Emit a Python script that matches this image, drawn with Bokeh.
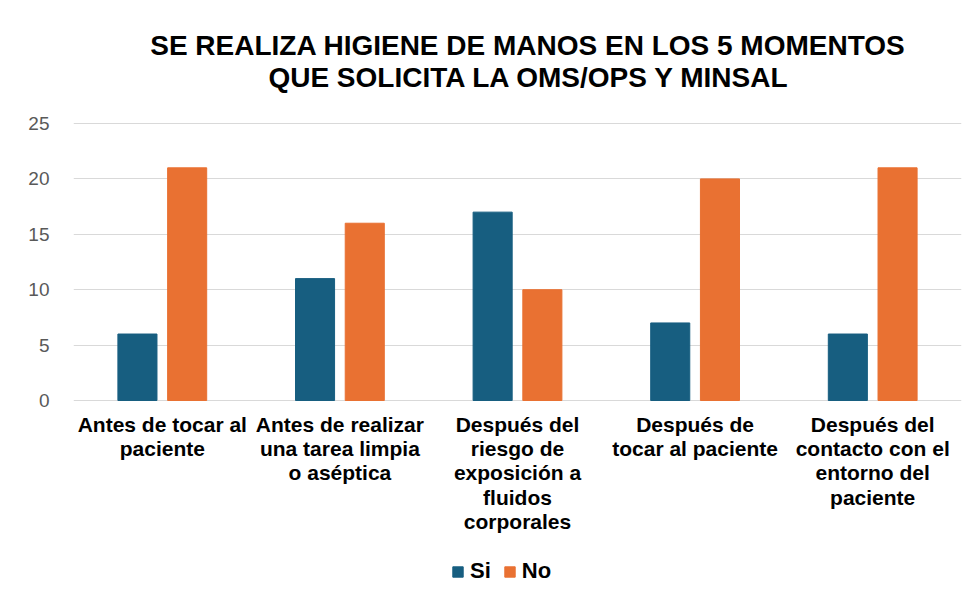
from bokeh.plotting import figure
from bokeh.models import ColumnDataSource, FactorRange, Legend, LegendItem, Range1d, FixedTicker, Label
from bokeh.transform import dodge
from bokeh.core.properties import value
from bokeh.embed import file_html
from bokeh.resources import INLINE

categories = [
    "Antes de tocar al\npaciente",
    "Antes de realizar\nuna tarea limpia\no aséptica",
    "Después del\nriesgo de\nexposición a\nfluidos\ncorporales",
    "Después de\ntocar al paciente",
    "Después del\ncontacto con el\nentorno del\npaciente",
]
si_values = [6, 11, 17, 7, 6]
no_values = [21, 16, 10, 20, 21]
series_names = ["Si", "No"]
y_ticks = [0, 5, 10, 15, 20, 25]
title_line1 = "SE REALIZA HIGIENE DE MANOS EN LOS 5 MOMENTOS"
title_line2 = "QUE SOLICITA LA OMS/OPS Y MINSAL"

FONT = "Liberation Sans"
BLUE = "#175E80"
ORANGE = "#E97132"

W, H = 969, 596
LEFT, RIGHT = 73, 8
PLOT_TOP, PLOT_BOTTOM = 123, 400          # pixel rows of value 25 and value 0
ppu = (PLOT_BOTTOM - PLOT_TOP) / y_ticks[-1]
y_start = -(H - PLOT_BOTTOM) / ppu
y_end = y_ticks[-1] + PLOT_TOP / ppu

src = ColumnDataSource(dict(cat=categories, si=si_values, no=no_values))

p = figure(
    x_range=FactorRange(*categories, range_padding=0),
    y_range=Range1d(y_start, y_end),
    width=W, height=H,
    output_backend="svg", toolbar_location=None,
    min_border_left=LEFT, min_border_right=RIGHT, min_border_top=0, min_border_bottom=0,
)
p.xaxis.visible = False

r1 = p.vbar(x=dodge("cat", -0.14, range=p.x_range), top="si", width=0.22, source=src,
            fill_color=BLUE, line_color=BLUE)
r2 = p.vbar(x=dodge("cat", 0.14, range=p.x_range), top="no", width=0.22, source=src,
            fill_color=ORANGE, line_color=ORANGE)

# category labels below the zero line
p.text(x="cat", y=0, text="cat", source=src, y_offset=12,
       text_align="center", text_baseline="top",
       text_font=value(FONT), text_font_size="21px", text_font_style="bold",
       text_color="#000000", text_line_height=1.06)

p.outline_line_color = None
p.xgrid.grid_line_color = None
p.ygrid.grid_line_color = "#d9d9d9"
p.ygrid.grid_line_width = 1

p.yaxis.ticker = FixedTicker(ticks=y_ticks)
p.yaxis.axis_line_color = None
p.yaxis.major_tick_line_color = None
p.yaxis.minor_tick_line_color = None
p.yaxis.major_label_text_font = FONT
p.yaxis.major_label_text_font_size = "19px"
p.yaxis.major_label_text_color = "#595959"
p.yaxis.major_label_standoff = 18

for txt, cx, cy in [(title_line1, 527.5, 45), (title_line2, 529, 77)]:
    p.add_layout(Label(text=txt, x=cx - LEFT, y=H - cy, x_units="screen", y_units="screen",
                       text_align="center", text_baseline="middle",
                       text_font=FONT, text_font_size="28px", text_font_style="bold",
                       text_color="#000000"))

legend = Legend(
    items=[LegendItem(label=series_names[0], renderers=[r1]),
           LegendItem(label=series_names[1], renderers=[r2])],
    orientation="horizontal",
    location=(451 - LEFT, 12),
    border_line_color=None,
    background_fill_alpha=0,
    padding=0, margin=0,
    glyph_width=13, glyph_height=13,
    label_standoff=6, spacing=12,
    label_text_font=FONT, label_text_font_size="22px",
    label_text_font_style="bold", label_text_color="#000000",
)
p.add_layout(legend, "center")

open("out.html", "w").write(file_html(p, INLINE))
